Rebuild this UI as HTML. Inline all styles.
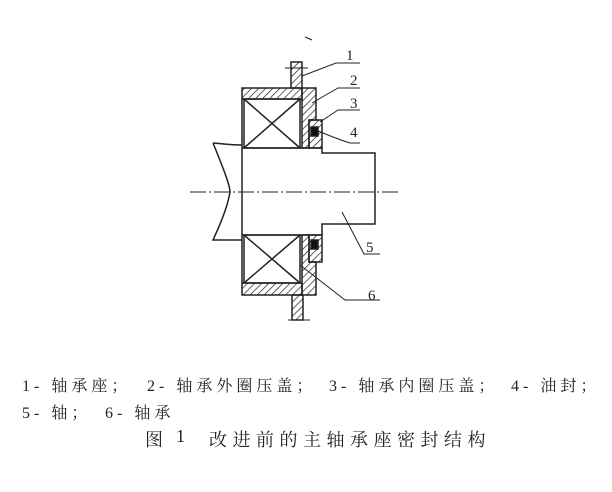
<!DOCTYPE html>
<html><head><meta charset="utf-8"><style>
html,body{margin:0;padding:0;background:#fff;}
body{width:612px;height:492px;overflow:hidden;position:relative;}
.t{position:absolute;font-family:"Liberation Serif","Noto Serif CJK SC",serif;color:#222;white-space:nowrap;font-size:16px;letter-spacing:4px;}
</style></head><body>
<svg width="612" height="492" style="position:absolute;left:0;top:0">
<defs><pattern id="h" width="5" height="5" patternUnits="userSpaceOnUse" patternTransform="rotate(45)"><line x1="0" y1="0" x2="0" y2="5" stroke="#222" stroke-width="1.4"/></pattern></defs>
<g stroke="#222" stroke-width="1.5" fill="none">
<path d="M242 148 H322 V153 H375 V224 H322 V235 H242"/>
<path d="M242 145 C230 145 215 143 213 143 M213 143 C222 165 230 185 230 192 C228 205 220 225 213 240 L242 240"/>
<rect x="244" y="99" width="56" height="49"/>
<line x1="244" y1="99" x2="300" y2="148"/><line x1="300" y1="99" x2="244" y2="148"/>
<rect x="244" y="235" width="56" height="48"/>
<line x1="244" y1="235" x2="300" y2="283"/><line x1="300" y1="235" x2="244" y2="283"/>
<line x1="242" y1="99" x2="242" y2="283"/>
<rect x="242" y="88" width="60" height="11" fill="url(#h)"/>
<rect x="242" y="283" width="60" height="12" fill="url(#h)"/>
<rect x="291" y="62" width="11" height="26" fill="url(#h)"/>
<rect x="292" y="295" width="11" height="25" fill="url(#h)"/>
<path d="M302 88 H316 V120 H309 V148 H302 Z" fill="url(#h)"/>
<path d="M302 295 H316 V262 H309 V235 H302 Z" fill="url(#h)"/>
<path d="M309 120 H322 V148 H309 Z" fill="url(#h)"/>
<path d="M309 235 H322 V262 H309 Z" fill="url(#h)"/>
<rect x="311" y="127" width="7" height="9" fill="#111"/>
<rect x="311" y="240" width="7" height="9" fill="#111"/>
</g>
<line x1="190" y1="192" x2="400" y2="192" stroke="#222" stroke-width="1" stroke-dasharray="16,3,2,3"/>
<line x1="285" y1="68" x2="308" y2="68" stroke="#222" stroke-width="1"/>
<line x1="288" y1="320" x2="310" y2="320" stroke="#222" stroke-width="1"/>
<g stroke="#222" stroke-width="1" fill="none">
<path d="M302 76 L336 63 H360"/>
<path d="M312 103 L338 88 H360"/>
<path d="M320 122 L338 110 H360"/>
<path d="M318 131 Q340 140 350 143 H360"/>
<path d="M342 212 L364 254 H380"/>
<path d="M300 265 L345 300 H380"/>
<path d="M305 37 L312 40"/>
</g>
<g font-family="Liberation Serif,serif" font-size="15" fill="#222">
<text x="346" y="60">1</text><text x="350" y="85">2</text><text x="350" y="108">3</text><text x="350" y="137">4</text><text x="366" y="252">5</text><text x="368" y="300">6</text>
</g>
</svg>
<div class="t" style="left:22px;top:373px;">1- 轴承座；</div>
<div class="t" style="left:147px;top:373px;">2- 轴承外圈压盖；</div>
<div class="t" style="left:329px;top:373px;">3- 轴承内圈压盖；</div>
<div class="t" style="left:511px;top:373px;">4- 油封；</div>
<div class="t" style="left:22px;top:400px;">5- 轴；</div>
<div class="t" style="left:105px;top:400px;">6- 轴承</div>
<div class="t" style="left:145px;top:426px;font-size:18px;letter-spacing:0;">图</div>
<div class="t" style="left:176px;top:426px;font-size:18px;letter-spacing:0;">1</div>
<div class="t" style="left:209px;top:426px;font-size:18px;letter-spacing:5.5px;">改进前的主轴承座密封结构</div>
</body></html>
